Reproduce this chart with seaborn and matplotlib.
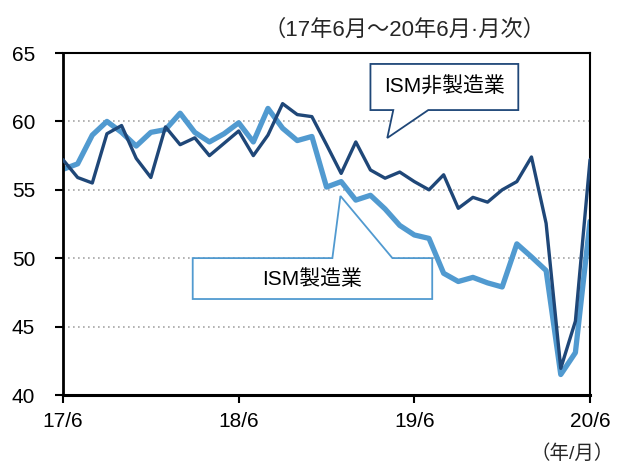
import numpy as np
import pandas as pd
import matplotlib.pyplot as plt
import seaborn as sns
from matplotlib.patches import Polygon

# ISM indices, monthly 2017/6 - 2020/6
months = pd.period_range("2017-06", "2020-06", freq="M")
ism_nonmfg = [57.2, 55.9, 55.5, 59.1, 59.7, 57.3, 55.9, 59.6, 58.3, 58.8, 57.5, 58.4,
              59.3, 57.5, 59.0, 61.3, 60.5, 60.35, 58.3, 56.2, 58.5, 56.45, 55.85, 56.3,
              55.6, 55.0, 56.1, 53.65, 54.45, 54.1, 55.0, 55.6, 57.4, 52.55, 41.95, 45.4, 57.2]
ism_mfg = [56.5, 56.9, 59.0, 60.0, 59.2, 58.2, 59.2, 59.4, 60.6, 59.2, 58.5, 59.1,
           59.9, 58.5, 60.95, 59.5, 58.6, 58.9, 55.2, 55.6, 54.25, 54.6, 53.6, 52.4,
           51.7, 51.45, 48.9, 48.3, 48.6, 48.2, 47.9, 51.05, 50.1, 49.1, 41.5, 43.1, 52.7]
y_ticks = [40, 45, 50, 55, 60, 65]

DARK = "#1F4778"
LIGHT = "#519AD0"

sns.set_theme(style="white")
plt.rcParams['font.family'] = ['Liberation Sans', 'Noto Sans CJK JP', 'DejaVu Sans']

x = np.arange(len(months))
df = pd.DataFrame({"x": x, "nonmfg": ism_nonmfg, "mfg": ism_mfg})

fig = plt.figure(figsize=(6.19, 4.72), dpi=100)
ax = fig.add_axes([0.1018, 0.163, 0.8514, 0.7247])

for yv in y_ticks[1:-1]:
    ax.axhline(yv, color="#a6a6a6", lw=1.2, ls=(0, (1, 2)), zorder=0)

sns.lineplot(data=df, x="x", y="nonmfg", ax=ax, color=DARK, lw=2.4, zorder=3)
sns.lineplot(data=df, x="x", y="mfg", ax=ax, color=LIGHT, lw=3.8, zorder=2)

# callouts
dark_box = [(21.0, 64.2), (31.1, 64.2), (31.1, 60.83), (24.95, 60.83), (22.15, 58.79),
            (22.56, 60.83), (21.0, 60.83)]
ax.add_patch(Polygon(dark_box, closed=True, fc="white", ec=DARK, lw=1.3, zorder=4))
ax.text(26.05, 62.5, "ISM非製造業", ha="center", va="center", fontsize=15, color="black",
        zorder=5)

light_box = [(8.86, 50.01), (18.4, 50.01), (18.95, 54.55), (22.5, 50.01), (25.22, 50.01),
             (25.22, 47.02), (8.86, 47.02)]
ax.add_patch(Polygon(light_box, closed=True, fc="white", ec=LIGHT, lw=1.3, zorder=1))
ax.text(17.04, 48.45, "ISM製造業", ha="center", va="center", fontsize=15, color="black",
        zorder=5)

ax.set_xlim(0, 36)
ax.set_ylim(40, 65)
tick_pos = [i for i, m in enumerate(months) if m.month == 6]
ax.set_xticks(tick_pos)
ax.set_xticklabels([f"{m.year % 100}/{m.month}" for m in months if m.month == 6])
ax.set_yticks(y_ticks)
ax.set_xlabel("")
ax.set_ylabel("")
ax.tick_params(axis="both", labelsize=15, colors="black", length=6, width=1.5,
               direction="out", left=True, bottom=True)
ax.tick_params(axis="x", pad=6)
ax.tick_params(axis="y", pad=14)
for s in ax.spines.values():
    s.set_color("black")
    s.set_linewidth(1.5)
ax.spines["bottom"].set_linewidth(2.2)
ax.spines["left"].set_linewidth(2.0)

fig.text(0.654, 0.936, "（17年6月～20年6月·月次）", ha="center", va="center", fontsize=16)
fig.text(0.925, 0.04, "（年/月）", ha="center", va="center", fontsize=14)

fig.savefig("out.png", dpi=100)
